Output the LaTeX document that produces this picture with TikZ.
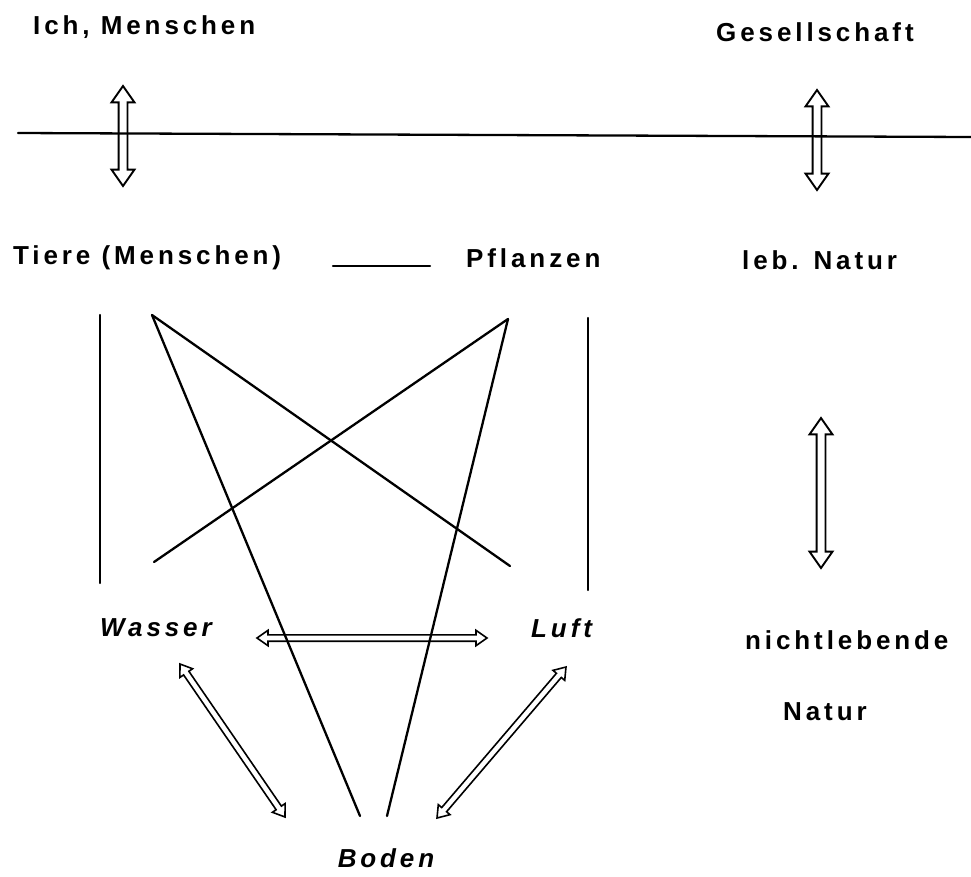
\documentclass[tikz,border=0pt]{standalone}
\usepackage{fontspec}
\setmainfont{Liberation Sans}
\newfontfamily\lab{Liberation Sans}[LetterSpace=15]
\usetikzlibrary{shapes.arrows,calc}
\tikzset{
  lbl/.style={font=\lab\bfseries\fontsize{26}{30}\selectfont, inner sep=0pt, anchor=west},
  lblit/.style={lbl, font=\lab\bfseries\itshape\fontsize{26}{30}\selectfont},
  ln/.style={line width=2.3pt, line cap=round},
  bigarr/.style={double arrow, draw, line width=1.9pt, inner sep=3.5pt,
    double arrow head extend=7pt, double arrow tip angle=70, double arrow head indent=0pt},
  smallarr/.style={double arrow, draw, line width=1.6pt, inner sep=2.4pt,
    double arrow head extend=4.5pt, double arrow tip angle=70, double arrow head indent=0pt},
}
\newcommand{\hollow}[3]{%
  \path let \p1=($(#3)-(#2)$), \n1={veclen(\x1,\y1)} in
    (#2) -- node[#1, sloped, minimum height=\n1] {} (#3);}
\begin{document}
\begin{tikzpicture}[x=1pt,y=-1pt]
\useasboundingbox (0,0) rectangle (971,876);
% texts
\node[lbl] (ich) at (33,27) {Ich, Menschen};
\node[lbl] (ges) at (716,32) {Gesellschaft};
\node[lbl] (tiere) at (13,258) {Tiere (Menschen)};
\node[lbl] (pfl) at (466,258) {Pflanzen};
\node[lbl] (leb) at (742,260) {leb. Natur};
\node[lblit] (wasser) at (100,628) {Wasser};
\node[lblit] (luft) at (531,628) {Luft};
\node[lbl] (nicht) at (745,640) {nichtlebende};
\node[lbl] (natur) at (783,712) {Natur};
\node[lblit, anchor=center] (boden) at (386,858) {Boden};
% horizontal rule
\coordinate (h1) at (18,133);
\coordinate (h2) at (971,137);
\draw[ln] (h1) -- (h2);
% connector between Tiere and Pflanzen
\coordinate (s1) at (333,266); \coordinate (s2) at (430,266);
\draw[ln] (s1) -- (s2);
% coordinates for line ends
\coordinate (lv1) at (100,315); \coordinate (lv2) at (100,583);
\coordinate (rv1) at (588,318); \coordinate (rv2) at (588,590);
\coordinate (t) at (152,315);
\coordinate (p) at (508,319);
\coordinate (tw) at (510,566);
\coordinate (pw) at (154,562);
\coordinate (b1) at (360,816);
\coordinate (b2) at (387,816);
\draw[ln] (lv1) -- (lv2);
\draw[ln] (rv1) -- (rv2);
\draw[ln] (t) -- (tw);
\draw[ln] (p) -- (pw);
\draw[ln] (t) -- (b1);
\draw[ln] (p) -- (b2);
% hollow double arrows
\coordinate (a1) at (123,86);  \coordinate (a2) at (123,186);
\coordinate (g1) at (817,90);  \coordinate (g2) at (817,190);
\coordinate (n1) at (821,418); \coordinate (n2) at (821,568);
\coordinate (w1) at (257,638); \coordinate (w2) at (487,638);
\coordinate (wb1) at (180,664); \coordinate (wb2) at (285,817);
\coordinate (lb1) at (566,667); \coordinate (lb2) at (437,818);
\hollow{bigarr}{a1}{a2}
\hollow{bigarr}{g1}{g2}
\hollow{bigarr}{n1}{n2}
\hollow{smallarr}{w1}{w2}
\hollow{smallarr}{wb1}{wb2}
\hollow{smallarr}{lb1}{lb2}
\end{tikzpicture}
\end{document}
